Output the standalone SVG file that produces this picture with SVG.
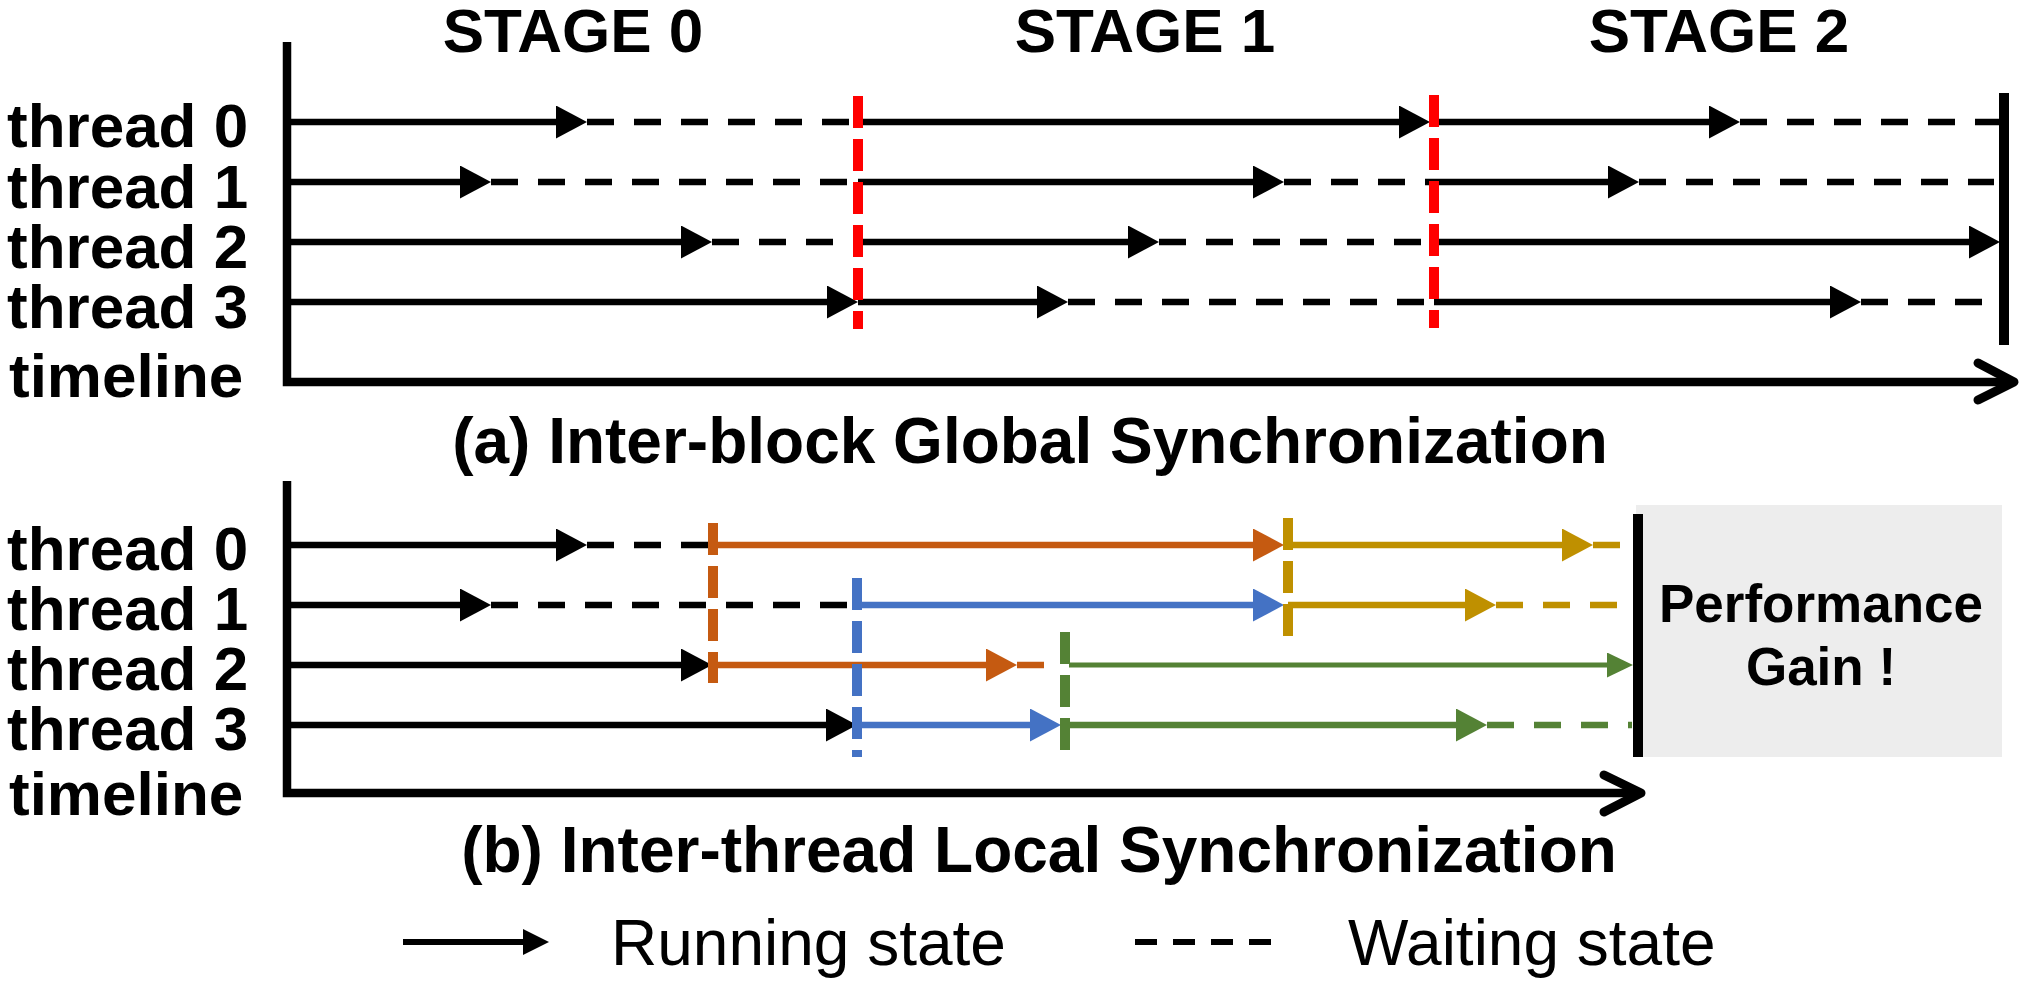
<svg xmlns="http://www.w3.org/2000/svg" width="2025" height="983" viewBox="0 0 2025 983">
<style>
.lbl{font-family:"Liberation Sans",Arial,sans-serif;font-weight:bold;font-size:62px;fill:#000}
.cap{font-family:"Liberation Sans",Arial,sans-serif;font-weight:bold;font-size:64px;fill:#000;text-anchor:middle}
.leg{font-family:"Liberation Sans",Arial,sans-serif;font-size:64px;fill:#000}
.s{stroke-width:6.5;fill:none}
.d{stroke-width:6.5;fill:none;stroke-dasharray:27 20}
.k{stroke:#000}.o{stroke:#C55A11}.b{stroke:#4472C4}.y{stroke:#BF9000}.g{stroke:#548235}
.bar{stroke-width:10;fill:none;stroke-dasharray:32 11}
.ax{stroke:#000;stroke-width:8.5;fill:none}
.chev{stroke:#000;stroke-width:9;fill:none;stroke-linecap:round;stroke-linejoin:round}
</style>
<defs>
<marker id="hk" viewBox="0 0 31 33" refX="0" refY="16.5" markerWidth="31" markerHeight="33" markerUnits="userSpaceOnUse" orient="auto"><path d="M0,0L31,16.5L0,33z" fill="#000"/></marker>
<marker id="ho" viewBox="0 0 31 33" refX="0" refY="16.5" markerWidth="31" markerHeight="33" markerUnits="userSpaceOnUse" orient="auto"><path d="M0,0L31,16.5L0,33z" fill="#C55A11"/></marker>
<marker id="hb" viewBox="0 0 31 33" refX="0" refY="16.5" markerWidth="31" markerHeight="33" markerUnits="userSpaceOnUse" orient="auto"><path d="M0,0L31,16.5L0,33z" fill="#4472C4"/></marker>
<marker id="hy" viewBox="0 0 31 33" refX="0" refY="16.5" markerWidth="31" markerHeight="33" markerUnits="userSpaceOnUse" orient="auto"><path d="M0,0L31,16.5L0,33z" fill="#BF9000"/></marker>
<marker id="hg" viewBox="0 0 31 33" refX="0" refY="16.5" markerWidth="31" markerHeight="33" markerUnits="userSpaceOnUse" orient="auto"><path d="M0,0L31,16.5L0,33z" fill="#548235"/></marker>
<marker id="hgs" viewBox="0 0 26 25" refX="0" refY="12.5" markerWidth="26" markerHeight="25" markerUnits="userSpaceOnUse" orient="auto"><path d="M0,0L26,12.5L0,25z" fill="#548235"/></marker>
<marker id="hkl" viewBox="0 0 26 26" refX="0" refY="13" markerWidth="26" markerHeight="26" markerUnits="userSpaceOnUse" orient="auto"><path d="M0,0L26,13L0,26z" fill="#000"/></marker>
</defs>
<rect width="2025" height="983" fill="#fff"/>

<g id="stage-titles">
<text class="lbl" x="573" y="52" text-anchor="middle">STAGE 0</text>
<text class="lbl" x="1145" y="52" text-anchor="middle">STAGE 1</text>
<text class="lbl" x="1719" y="52" text-anchor="middle">STAGE 2</text>
</g>

<g id="labels-a">
<text class="lbl"><tspan x="7" y="147">thread 0</tspan><tspan x="7" y="208">thread 1</tspan><tspan x="7" y="268">thread 2</tspan><tspan x="7" y="328">thread 3</tspan><tspan x="9" y="397">timeline</tspan></text>
</g>

<g id="axis-a">
<path class="ax" d="M287,42V382H2012"/>
<path class="chev" d="M1978,363L2014,382L1978,400"/>
<line x1="2004" y1="93" x2="2004" y2="345" stroke="#000" stroke-width="10"/>
</g>

<g id="connectors-a">
<line class="s k" x1="291" y1="122" x2="556" y2="122" marker-end="url(#hk)"/>
<line class="d k" x1="587" y1="122" x2="858" y2="122"/>
<line class="s k" x1="858" y1="122" x2="1399" y2="122" marker-end="url(#hk)"/>
<line class="s k" x1="1434" y1="122" x2="1709" y2="122" marker-end="url(#hk)"/>
<line class="d k" x1="1740" y1="122" x2="2000" y2="122"/>
<line class="s k" x1="291" y1="182" x2="460" y2="182" marker-end="url(#hk)"/>
<line class="d k" x1="491" y1="182" x2="858" y2="182"/>
<line class="s k" x1="858" y1="182" x2="1253" y2="182" marker-end="url(#hk)"/>
<line class="d k" x1="1284" y1="182" x2="1434" y2="182"/>
<line class="s k" x1="1434" y1="182" x2="1608" y2="182" marker-end="url(#hk)"/>
<line class="d k" x1="1639" y1="182" x2="1994" y2="182"/>
<line class="s k" x1="291" y1="242" x2="681" y2="242" marker-end="url(#hk)"/>
<line class="d k" x1="712" y1="242" x2="858" y2="242"/>
<line class="s k" x1="858" y1="242" x2="1128" y2="242" marker-end="url(#hk)"/>
<line class="d k" x1="1159" y1="242" x2="1434" y2="242"/>
<line class="s k" x1="1434" y1="242" x2="1969" y2="242" marker-end="url(#hk)"/>
<line class="s k" x1="291" y1="302" x2="827" y2="302" marker-end="url(#hk)"/>
<line class="s k" x1="858" y1="302" x2="1037" y2="302" marker-end="url(#hk)"/>
<line class="d k" x1="1068" y1="302" x2="1434" y2="302"/>
<line class="s k" x1="1434" y1="302" x2="1830" y2="302" marker-end="url(#hk)"/>
<line class="d k" x1="1861" y1="302" x2="1983" y2="302"/>
<line class="bar" stroke="#FF0000" x1="858" y1="96" x2="858" y2="329"/>
<line class="bar" stroke="#FF0000" x1="1434" y1="95" x2="1434" y2="328"/>
</g>

<g id="caption-a">
<text class="cap" x="1030" y="463">(a) Inter-block Global Synchronization</text>
</g>

<g id="labels-b">
<text class="lbl"><tspan x="7" y="570">thread 0</tspan><tspan x="7" y="630">thread 1</tspan><tspan x="7" y="690">thread 2</tspan><tspan x="7" y="750">thread 3</tspan><tspan x="9" y="815">timeline</tspan></text>
</g>

<g id="gain-box">
<rect x="1636" y="505" width="366" height="252" fill="#EDEDED"/>
<text class="lbl" text-anchor="middle" style="font-size:53px"><tspan x="1821" y="622">Performance</tspan><tspan x="1821" y="685">Gain !</tspan></text>
</g>

<g id="axis-b">
<path class="ax" d="M287,481V793H1640"/>
<path class="chev" d="M1604,775L1641,793L1604,812"/>
<line x1="1638" y1="514" x2="1638" y2="757" stroke="#000" stroke-width="10"/>
</g>

<g id="connectors-b">
<line class="s k" x1="291" y1="545" x2="556" y2="545" marker-end="url(#hk)"/>
<line class="d k" x1="587" y1="545" x2="713" y2="545"/>
<line class="s o" x1="713" y1="545" x2="1253" y2="545" marker-end="url(#ho)"/>
<line class="s y" x1="1288" y1="545" x2="1562" y2="545" marker-end="url(#hy)"/>
<line class="d y" x1="1593" y1="545" x2="1621" y2="545"/>
<line class="s k" x1="291" y1="605" x2="460" y2="605" marker-end="url(#hk)"/>
<line class="d k" x1="491" y1="605" x2="849" y2="605"/>
<line class="s b" x1="857" y1="605" x2="1253" y2="605" marker-end="url(#hb)"/>
<line class="s y" x1="1288" y1="605" x2="1465" y2="605" marker-end="url(#hy)"/>
<line class="d y" x1="1496" y1="605" x2="1619" y2="605"/>
<line class="s k" x1="291" y1="665" x2="681" y2="665" marker-end="url(#hk)"/>
<line class="s o" x1="713" y1="665" x2="986" y2="665" marker-end="url(#ho)"/>
<line class="d o" x1="1017" y1="665" x2="1046" y2="665"/>
<line class="g" stroke-width="5" fill="none" x1="1069" y1="665" x2="1607" y2="665" marker-end="url(#hgs)"/>
<line class="s k" x1="291" y1="725" x2="826" y2="725" marker-end="url(#hk)"/>
<line class="s b" x1="857" y1="725" x2="1030" y2="725" marker-end="url(#hb)"/>
<line class="s g" x1="1065" y1="725" x2="1456" y2="725" marker-end="url(#hg)"/>
<line class="d g" x1="1487" y1="725" x2="1632" y2="725"/>
<line class="bar o" x1="713" y1="523" x2="713" y2="683"/>
<line class="bar b" x1="857" y1="578" x2="857" y2="757"/>
<line class="bar y" x1="1288" y1="518" x2="1288" y2="636"/>
<line class="bar g" x1="1065" y1="632" x2="1065" y2="750"/>
</g>

<g id="caption-b">
<text class="cap" x="1039" y="872">(b) Inter-thread Local Synchronization</text>
</g>

<g id="legend">
<line x1="403" y1="942" x2="523" y2="942" stroke="#000" stroke-width="6" marker-end="url(#hkl)"/>
<text class="leg" x="611" y="965">Running state</text>
<line x1="1135" y1="942" x2="1271" y2="942" stroke="#000" stroke-width="6" stroke-dasharray="22 16"/>
<text class="leg" x="1348" y="965">Waiting state</text>
</g>
</svg>
